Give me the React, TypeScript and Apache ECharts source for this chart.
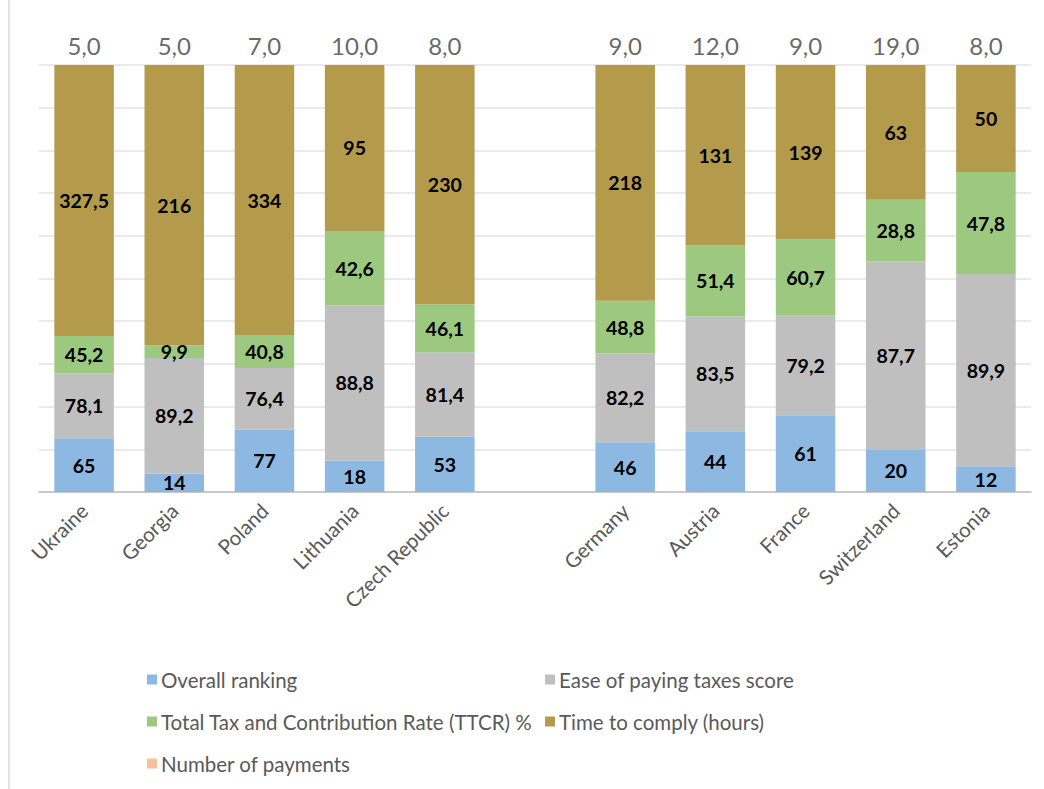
import React, { useEffect, useRef } from "react";
import * as echarts from "echarts";

const categories = ["Ukraine", "Georgia", "Poland", "Lithuania", "Czech Republic", "", "Germany", "Austria", "France", "Switzerland", "Estonia"];
const overallRanking = [65, 14, 77, 18, 53, null, 46, 44, 61, 20, 12];
const easeScore = [78.1, 89.2, 76.4, 88.8, 81.4, null, 82.2, 83.5, 79.2, 87.7, 89.9];
const ttcr = [45.2, 9.9, 40.8, 42.6, 46.1, null, 48.8, 51.4, 60.7, 28.8, 47.8];
const timeToComply = [327.5, 216, 334, 95, 230, null, 218, 131, 139, 63, 50];
const payments = [5, 5, 7, 10, 8, null, 9, 12, 9, 19, 8];

const seriesNames = [
  "Overall ranking",
  "Ease of paying taxes score",
  "Total Tax and Contribution Rate (TTCR) %",
  "Time to comply (hours)",
  "Number of payments",
];
const colors = ["#8db8e2", "#bfbfbf", "#9cc97f", "#b49b4b", "#f4b183"];

const FONT = "Lato, 'Open Sans', sans-serif";

export default function App() {
  const ref = useRef<HTMLDivElement>(null);
  useEffect(() => {
    if (!ref.current) return;
    const chart = echarts.init(ref.current, null, { renderer: "svg" });
    const raw = [overallRanking, easeScore, ttcr, timeToComply];
    const totals = categories.map((_, i) =>
      raw.reduce((s, arr) => s + (arr[i] == null ? 0 : (arr[i] as number)), 0)
    );
    const fmt = (v: number) => String(v).replace(".", ",");
    const stackSeries = raw.map((arr, k) => ({
      name: seriesNames[k],
      type: "bar",
      stack: "total",
      barWidth: "66%",
      itemStyle: { color: colors[k] },
      data: arr.map((v, i) => (v == null ? "-" : ((v as number) / totals[i]) * 100)),
      label: {
        show: true,
        position: "inside",
        color: "#000",
        fontWeight: "bold",
        fontSize: 19.5,
        fontFamily: FONT,
        formatter: (p: any) => (arr[p.dataIndex] == null ? "" : fmt(arr[p.dataIndex] as number)),
      },
    }));
    const paySeries = {
      name: seriesNames[4],
      type: "scatter",
      symbolSize: 0,
      itemStyle: { color: colors[4] },
      data: payments.map((v) => (v == null ? "-" : 100)),
      label: {
        show: true,
        position: "top",
        distance: 8,
        color: "#404040",
        fontSize: 24,
        fontFamily: FONT,
        formatter: (p: any) =>
          payments[p.dataIndex] == null ? "" : (payments[p.dataIndex] as number).toFixed(1).replace(".", ","),
      },
    };
    const legendCommon = {
      orient: "vertical",
      icon: "rect",
      itemWidth: 10,
      itemHeight: 10,
      itemGap: 21,
      height: 140,
      textStyle: { color: "#595959", fontSize: 20.5, fontFamily: FONT, padding: [0, 0, 0, -1] },
    };
    chart.setOption({
      animation: false,
      color: colors,
      grid: { left: 39, right: 13, top: 65, bottom: 297, outerBoundsMode: "none", containLabel: false },
      xAxis: {
        type: "category",
        data: categories,
        axisTick: { show: false },
        axisLine: { lineStyle: { color: "#bfbfbf", width: 1.5 } },
        axisLabel: {
          rotate: 45,
          interval: 0,
          color: "#595959",
          fontSize: 20.5,
          fontFamily: FONT,
          margin: 15,
        },
      },
      yAxis: {
        type: "value",
        min: 0,
        max: 100,
        interval: 10,
        axisLabel: { show: false },
        axisLine: { show: false },
        axisTick: { show: false },
        splitLine: { lineStyle: { color: "#e3e3e3", width: 1.5 } },
      },
      legend: [
        { ...legendCommon, left: 142, top: 664, data: [seriesNames[0], seriesNames[2], seriesNames[4]] },
        { ...legendCommon, left: 540, top: 664, data: [seriesNames[1], seriesNames[3]] },
      ],
      graphic: [
        {
          type: "line",
          shape: { x1: 9, y1: 0, x2: 9, y2: 789 },
          style: { stroke: "#d9d9d9", lineWidth: 1.5 },
        },
      ],
      series: [...stackSeries, paySeries],
    });
    return () => chart.dispose();
  }, []);
  return (
    <div
      ref={ref}
      style={{ position: "absolute", left: 0, top: 0, width: 1044, height: 789, background: "#fff" }}
    />
  );
}
